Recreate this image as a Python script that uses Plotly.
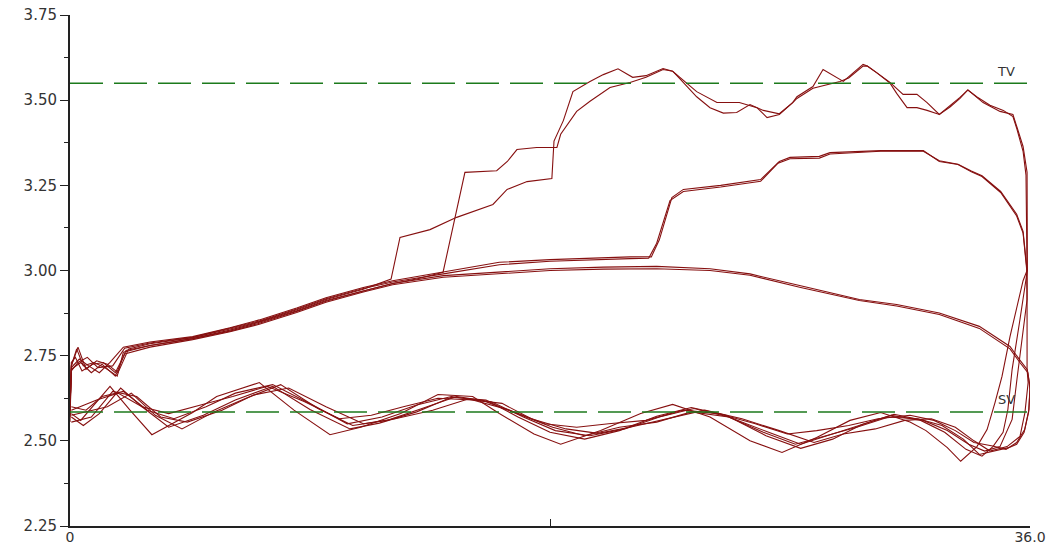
import plotly.graph_objects as go

# Each cycle runs out along the upper branch, drops at the right edge,
# and returns along the lower branch back to x = 0.
cycle_a_x = [0.0, 0.05, 0.3, 0.6, 1.0, 1.4, 1.8, 2.2, 3.0, 4.6, 6.0, 7.1, 8.5, 9.6, 11.0, 12.04,
             12.375, 13.5, 14.5, 15.86, 16.39, 17.14, 18.07, 18.15, 18.5, 18.86, 19.5, 20.0, 20.55, 21.1,
             21.6, 22.24, 22.6, 22.9, 23.2, 23.5, 24.26, 25.1, 25.76, 26.14, 26.6, 27.1, 27.26, 27.86,
             28.24, 28.76, 29.0, 29.74, 29.9, 30.26, 30.75, 31.24, 31.76, 32.14, 32.6, 33.375, 33.67,
             34.24, 34.875, 35.36, 35.51, 35.74, 35.89,
             35.9, 35.625, 35.33, 35.17, 34.99, 34.61,
             34.2, 33.6, 32.8, 31.9, 30.8, 29.7, 28.6, 27.4, 26.1, 24.6, 23.3, 22.0, 20.6, 19.3, 18.0,
             16.8, 15.6, 14.3, 13.0, 11.6, 10.5, 9.0, 7.6, 6.2, 5.0, 3.7, 2.7, 1.9, 1.1, 0.5, 0.05]
cycle_a_y = [2.57, 2.72, 2.775, 2.71, 2.735, 2.725, 2.70, 2.77, 2.785, 2.803, 2.828, 2.85, 2.885, 2.915, 2.945, 2.975,
             3.097, 3.12, 3.156, 3.194, 3.238, 3.261, 3.27, 3.38, 3.44, 3.525, 3.555, 3.575, 3.592, 3.567,
             3.572, 3.593, 3.585, 3.565, 3.545, 3.525, 3.493, 3.493, 3.478, 3.449, 3.458, 3.493, 3.51, 3.54,
             3.59, 3.567, 3.555, 3.605, 3.60, 3.58, 3.552, 3.517, 3.517, 3.493, 3.458, 3.508, 3.53,
             3.493, 3.467, 3.458, 3.423, 3.364, 3.288,
             3.0, 2.857, 2.71, 2.592, 2.525, 2.483,
             2.455, 2.475, 2.525, 2.56, 2.575, 2.548, 2.505, 2.478, 2.515, 2.575, 2.598, 2.572, 2.53, 2.505, 2.525,
             2.57, 2.62, 2.628, 2.585, 2.552, 2.535, 2.592, 2.66, 2.62, 2.575, 2.54, 2.60, 2.655, 2.58, 2.545, 2.57]

cycle_b_x = [0.0, 0.05, 0.4, 0.8, 1.2, 1.7, 2.1, 3.0, 4.6, 6.0, 7.1, 8.5, 9.6, 11.0, 12.1, 13.0, 13.99,
             14.81, 16.0, 16.4, 16.76, 17.5, 18.26, 18.4, 19.0, 19.5, 20.25, 21.0, 21.6, 22.24, 22.6, 22.9,
             23.5, 24.0, 24.5, 25.0, 25.5, 26.0, 26.6, 27.1, 27.26, 27.86, 28.4, 28.875, 29.2, 29.74, 29.9,
             30.26, 30.75, 31.0, 31.39, 31.76, 32.14, 32.6, 33.0, 33.375, 33.67, 34.0, 34.5, 35.0, 35.36,
             35.51, 35.74, 35.85,
             35.89, 35.74, 35.25, 34.95, 34.69, 34.39, 34.01,
             33.4, 32.9, 32.1, 31.5, 30.4, 29.25, 28.0, 26.7, 25.5, 24.0, 22.6, 21.4, 19.9, 18.4, 17.4,
             16.1, 15.1, 13.8, 12.4, 10.9, 9.75, 8.4, 7.1, 5.5, 4.6, 3.07, 2.25, 1.5, 0.86, 0.4, 0.05]
cycle_b_y = [2.6, 2.71, 2.73, 2.70, 2.725, 2.69, 2.765, 2.78, 2.80, 2.825, 2.848, 2.882, 2.912, 2.94, 2.962, 2.975, 2.995,
             3.288, 3.293, 3.32, 3.355, 3.361, 3.361, 3.40, 3.467, 3.497, 3.537, 3.552, 3.567, 3.59, 3.585, 3.56,
             3.51, 3.478, 3.462, 3.464, 3.487, 3.47, 3.46, 3.493, 3.505, 3.535, 3.545, 3.555, 3.565, 3.60, 3.60,
             3.58, 3.55, 3.52, 3.478, 3.478, 3.47, 3.458, 3.48, 3.505, 3.53, 3.51, 3.485, 3.47, 3.452,
             3.415, 3.35, 3.28,
             3.0, 2.97, 2.806, 2.689, 2.613, 2.533, 2.483,
             2.44, 2.48, 2.53, 2.555, 2.583, 2.56, 2.51, 2.466, 2.50, 2.57, 2.607, 2.58, 2.53, 2.49, 2.52,
             2.58, 2.63, 2.636, 2.58, 2.54, 2.518, 2.59, 2.671, 2.63, 2.583, 2.518, 2.59, 2.66, 2.60, 2.56, 2.58]

cycle_c1_x = [0.0, 0.05, 0.35, 0.7, 1.1, 1.5, 2.0, 3.0, 4.6, 6.0, 7.1, 8.5, 9.6, 11.0, 12.1, 14.0, 16.1,
              18.0, 19.9, 21.0, 21.8,
              22.1, 22.57, 23.0, 24.4, 25.9, 26.6, 27.0, 28.1, 28.5, 30.4, 32.0, 32.6, 33.3, 33.8, 34.2,
              34.9, 35.5, 35.74, 35.88,
              35.89, 35.89, 35.93, 35.81, 35.625, 35.14,
              34.5, 33.9, 33.2, 32.3, 31.3, 30.2, 29.0, 27.9, 26.6, 25.2, 23.8, 22.4, 21.0, 19.8, 18.6,
              17.3, 16.2, 14.9, 13.6, 12.2, 11.0, 9.6, 8.2, 6.9, 5.7, 4.4, 3.4, 2.5, 1.6, 0.8, 0.05]
cycle_c1_y = [2.555, 2.715, 2.74, 2.72, 2.70, 2.73, 2.775, 2.79, 2.806, 2.832, 2.855, 2.89, 2.92, 2.95, 2.97, 2.995, 3.024,
              3.032, 3.038, 3.04, 3.04,
              3.09, 3.214, 3.238, 3.25, 3.267, 3.32, 3.332, 3.335, 3.346, 3.352, 3.352, 3.32, 3.311, 3.29, 3.276,
              3.229, 3.16, 3.11, 3.0,
              2.9, 2.71, 2.671, 2.583, 2.513, 2.483,
              2.47, 2.50, 2.54, 2.565, 2.56, 2.535, 2.52, 2.495, 2.53, 2.565, 2.59, 2.565, 2.54, 2.522, 2.535,
              2.565, 2.61, 2.622, 2.59, 2.565, 2.55, 2.60, 2.655, 2.635, 2.59, 2.555, 2.57, 2.63, 2.645, 2.57, 2.555]

cycle_c2_x = [0.0, 0.05, 0.3, 0.65, 1.05, 1.6, 2.05, 3.0, 4.6, 6.0, 7.1, 8.5, 9.6, 11.0, 12.1, 14.0, 16.1,
              18.0, 19.9, 21.0, 21.7,
              22.0, 22.5, 23.0, 24.4, 25.9, 26.55, 27.0, 28.1, 28.5, 30.4, 32.0, 32.6, 33.3, 33.8, 34.2,
              34.9, 35.5, 35.74, 35.89,
              35.89, 35.625, 35.51, 35.33, 34.875,
              34.3, 33.7, 32.9, 32.0, 30.9, 29.8, 28.6, 27.4, 26.2, 24.7, 23.3, 22.0, 20.6, 19.3, 18.1,
              16.9, 15.6, 14.3, 13.0, 11.7, 10.4, 9.1, 7.6, 6.2, 5.1, 3.9, 2.9, 2.0, 1.2, 0.6, 0.05]
cycle_c2_y = [2.6, 2.705, 2.73, 2.745, 2.715, 2.72, 2.772, 2.787, 2.804, 2.83, 2.852, 2.887, 2.917, 2.947, 2.966, 2.99, 3.017,
              3.027, 3.033, 3.035, 3.036,
              3.08, 3.205, 3.232, 3.245, 3.262, 3.315, 3.328, 3.33, 3.342, 3.35, 3.35, 3.322, 3.312, 3.292, 3.278,
              3.232, 3.165, 3.115, 3.0,
              2.915, 2.739, 2.68, 2.563, 2.483,
              2.47, 2.49, 2.53, 2.56, 2.578, 2.55, 2.52, 2.49, 2.525, 2.57, 2.585, 2.555, 2.54, 2.515, 2.54,
              2.575, 2.615, 2.63, 2.605, 2.57, 2.55, 2.605, 2.665, 2.64, 2.60, 2.565, 2.59, 2.645, 2.63, 2.59, 2.60]

cycle_n1_x = [0.0, 0.05, 0.25, 0.5, 0.9, 1.3, 1.77, 2.0, 3.0, 4.6, 6.0, 7.1, 8.5, 9.6, 11.0, 12.1, 14.0,
              16.1, 18.0, 20.0, 22.0, 24.0, 25.5, 27.4, 29.6, 31.0, 32.6, 34.1, 35.25, 35.6, 35.9, 36.0,
              35.96, 35.8, 35.5, 35.1,
              34.6, 33.9, 33.2, 32.4, 31.5, 30.3, 29.2, 28.0, 26.9, 25.7, 24.3, 23.0, 21.6, 20.2, 19.0,
              17.8, 16.5, 15.1, 13.8, 12.5, 11.3, 10.1, 8.8, 7.4, 6.1, 4.9, 3.7, 2.7, 1.8, 1.0, 0.05]
cycle_n1_y = [2.59, 2.72, 2.77, 2.72, 2.73, 2.715, 2.69, 2.76, 2.78, 2.80, 2.822, 2.845, 2.88, 2.91, 2.94, 2.962, 2.985,
              2.995, 3.005, 3.01, 3.012, 3.005, 2.99, 2.955, 2.915, 2.90, 2.875, 2.836, 2.777, 2.739, 2.709, 2.66,
              2.592, 2.533, 2.495, 2.475,
              2.485, 2.495, 2.53, 2.56, 2.575, 2.565, 2.545, 2.53, 2.52, 2.55, 2.58, 2.59, 2.56, 2.55, 2.54,
              2.55, 2.59, 2.62, 2.625, 2.60, 2.575, 2.565, 2.615, 2.66, 2.63, 2.605, 2.58, 2.60, 2.64, 2.62, 2.59]

cycle_n2_x = [0.0, 0.05, 0.2, 0.45, 0.85, 1.25, 1.7, 2.05, 3.0, 4.6, 6.0, 7.1, 8.5, 9.6, 11.0, 12.1, 14.0,
              16.1, 18.0, 20.0, 22.0, 24.0, 25.5, 27.4, 29.6, 31.0, 32.6, 34.1, 35.25, 35.62, 35.92, 36.0,
              35.95, 35.78, 35.5, 35.2,
              34.7, 34.1, 33.5, 32.7, 31.8, 30.7, 29.5, 28.4, 27.2, 26.0, 24.7, 23.4, 22.1, 20.8, 19.5,
              18.2, 17.0, 15.8, 14.5, 13.2, 11.9, 10.6, 9.3, 7.9, 6.6, 5.4, 4.2, 3.2, 2.3, 1.4, 0.05]
cycle_n2_y = [2.575, 2.73, 2.745, 2.705, 2.725, 2.73, 2.70, 2.755, 2.775, 2.797, 2.82, 2.842, 2.877, 2.907, 2.937, 2.958, 2.98,
              2.99, 3.0, 3.004, 3.005, 3.0, 2.986, 2.95, 2.912, 2.896, 2.871, 2.83, 2.77, 2.73, 2.70, 2.65,
              2.585, 2.525, 2.49, 2.48,
              2.47, 2.46, 2.505, 2.545, 2.565, 2.57, 2.54, 2.515, 2.49, 2.525, 2.57, 2.595, 2.57, 2.535, 2.515,
              2.53, 2.57, 2.615, 2.63, 2.595, 2.56, 2.545, 2.595, 2.665, 2.625, 2.585, 2.535, 2.575, 2.64, 2.60, 2.575]

# Reference levels drawn as dashed horizontal lines
level_names = ["TV", "SV"]
level_values = [3.55, 2.585]

# Axis extents and tick labels
x_range = [0, 36]
x_ticks = [0, 18, 36]
x_tick_text = ["0", "", "36.0"]
y_range = [2.25, 3.75]

cycles = [
    (cycle_a_x, cycle_a_y),
    (cycle_b_x, cycle_b_y),
    (cycle_c1_x, cycle_c1_y),
    (cycle_c2_x, cycle_c2_y),
    (cycle_n1_x, cycle_n1_y),
    (cycle_n2_x, cycle_n2_y),
]

CURVE_COLOR = "#861010"
LEVEL_COLOR = "#1c7a1c"
AXIS_COLOR = "#222222"

fig = go.Figure()

for xs, ys in cycles:
    fig.add_trace(go.Scatter(
        x=xs, y=ys, mode="lines",
        line=dict(color=CURVE_COLOR, width=1.1),
        showlegend=False, hoverinfo="skip",
    ))

for name, value in zip(level_names, level_values):
    fig.add_trace(go.Scatter(
        x=x_range, y=[value, value], mode="lines",
        line=dict(color=LEVEL_COLOR, width=1.5, dash="33px,11px"),
        showlegend=False, hoverinfo="skip",
    ))
    fig.add_annotation(
        x=35.1, y=value, text=name, showarrow=False, yshift=12,
        font=dict(family="DejaVu Sans", size=13, color="#333333"),
    )

fig.update_layout(
    width=1061, height=548,
    margin=dict(l=70, r=31, t=15, b=22),
    plot_bgcolor="white", paper_bgcolor="white",
    showlegend=False,
    font=dict(family="DejaVu Sans", size=15, color="#333333"),
)

fig.update_xaxes(
    range=x_range, tickmode="array", tickvals=x_ticks, ticktext=x_tick_text,
    ticks="inside", ticklen=7, tickwidth=1, tickcolor=AXIS_COLOR,
    tickfont=dict(size=14), ticklabelstandoff=-3,
    showline=True, linecolor=AXIS_COLOR, linewidth=2,
    showgrid=False, zeroline=False, automargin=False,
)
fig.update_yaxes(
    range=y_range, tick0=2.25, dtick=0.25, tickformat=".2f",
    ticks="outside", ticklen=8, tickwidth=1, tickcolor=AXIS_COLOR,
    minor=dict(tick0=2.25, dtick=0.125, ticks="outside", ticklen=4, tickcolor=AXIS_COLOR, showgrid=False),
    showline=True, linecolor=AXIS_COLOR, linewidth=2,
    showgrid=False, zeroline=False, automargin=False,
)

fig.write_html("out.html")
